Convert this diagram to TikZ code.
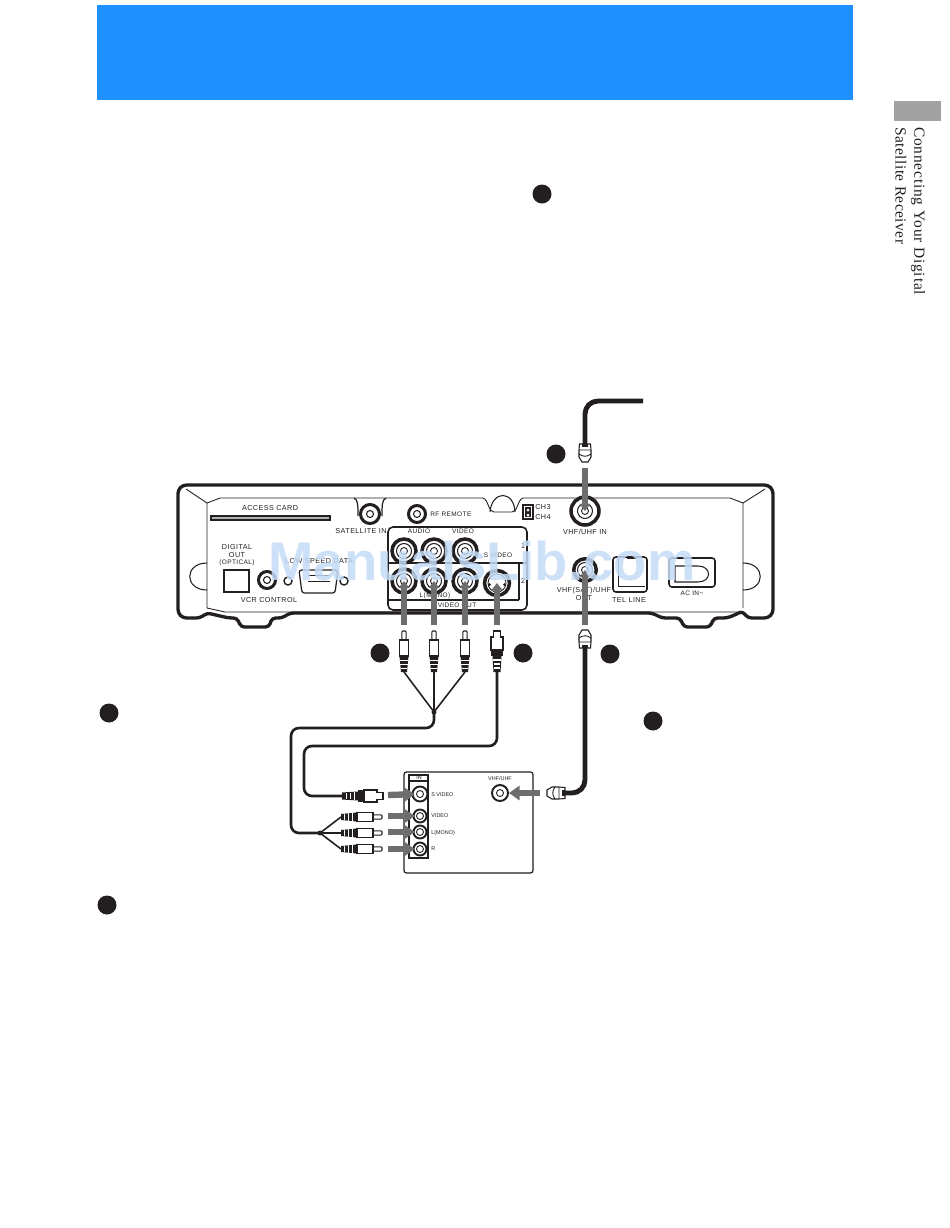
\documentclass[tikz,border=0pt]{standalone}
\usepackage{fontspec}
\setmainfont{Liberation Serif}
\setsansfont{Liberation Sans}
\newfontfamily\tabfonta[LetterSpace=5]{Liberation Serif}
\newfontfamily\tabfontb[LetterSpace=3]{Liberation Serif}
\newfontfamily\lblfont[LetterSpace=6]{Liberation Sans}
\usetikzlibrary{arrows.meta}
\definecolor{banner}{HTML}{1E90FF}
\definecolor{tabgray}{HTML}{A2A2A2}
\definecolor{feedgray}{HTML}{6E6E6E}
\definecolor{markcol}{HTML}{C4DBF6}
\definecolor{ink}{HTML}{231F20}
\tikzset{
  lbl/.style={font=\lblfont\fontsize{4.1}{5}\selectfont,inner sep=0pt,text=ink},
  lbls/.style={font=\lblfont\fontsize{3.7}{4}\selectfont,inner sep=0pt,text=ink},
  mini/.style={font=\sffamily\fontsize{3.1}{4}\selectfont,inner sep=0pt,text=ink},
  numdot/.style={circle,fill=ink,minimum size=3.8mm,inner sep=0pt},
  jack/.style={circle,draw=ink,line width=2pt,fill=white,minimum size=4.8mm,inner sep=0pt,
    path picture={\draw[ink,line width=.6pt] (path picture bounding box.center) circle (1.5mm);
      \draw[ink,line width=.5pt] (path picture bounding box.center) circle (.7mm);}},
  smalljack/.style={circle,draw=ink,line width=1.7pt,fill=white,minimum size=3.4mm,inner sep=0pt,
    path picture={\draw[ink,line width=.6pt] (path picture bounding box.center) circle (.7mm);}},
  svjack/.style={circle,draw=ink,line width=2pt,fill=white,minimum size=5mm,inner sep=0pt,
    path picture={\draw[ink,line width=.5pt] (path picture bounding box.center) circle (1.8mm);
      \fill[ink] ([shift={(-1.5mm,-.3mm)}]path picture bounding box.center) circle (.3mm)
        ([shift={(1.5mm,-.3mm)}]path picture bounding box.center) circle (.3mm)
        ([shift={(-.5mm,-1.9mm)}]path picture bounding box.center) rectangle ++(1mm,.9mm);}},
  vcrjack/.style={circle,draw=ink,line width=1.1pt,fill=white,minimum size=2.6mm,inner sep=0pt,
    path picture={\draw[ink,line width=.5pt] (path picture bounding box.center) circle (.7mm);}},
  feed/.style={feedgray,line width=2.9pt,-{Triangle[length=4pt,width=6pt]}},
  vcrfeed/.style={feedgray,line width=3.6pt,shorten >=3pt,-{Triangle[length=6pt,width=8pt]}},
  cable/.style={ink,line width=2.8pt,rounded corners=2.6mm},
  thincable/.style={ink,line width=1.5pt,rounded corners=1.6mm},
  tail/.style={ink,line width=.9pt},
  rca/.pic={
    \draw[ink,line width=.6pt,fill=white,rounded corners=.2mm] (-2.2,0) -- (2.2,0) -- (2.2,9) -- (-2.2,9) -- cycle;
    \draw[ink,line width=.6pt,fill=white] (-4.6,9) rectangle (4.6,25);
    \fill[ink] (-4.5,25) -- (4.5,25) -- (3,41) -- (-3,41) -- cycle;
    \foreach \r/\w in {29/4,33/3.6,37/3.2}
      \fill[white] (-\w,\r) rectangle (\w,\r+1.3);
    \coordinate (-end) at (0,41);
  },
  splug/.pic={
    \draw[ink,line width=.6pt,fill=white] (-3.5,0) -- (3.5,0) -- (3.5,6) -- (6,6) -- (6,19) -- (-6,19) -- (-6,6) -- (-3.5,6) -- cycle;
    \fill[ink] (-6,19) rectangle (6,25);
    \fill[ink] (-4.5,25) -- (4.5,25) -- (3.5,41) -- (-3.5,41) -- cycle;
    \foreach \r/\w in {28/3.8,32/3.4,36/3}
      \fill[white] (-\w,\r) rectangle (\w,\r+1.5);
    \coordinate (-end) at (0,41);
  },
  fplug/.pic={
    \draw[ink,line width=.6pt,fill=white] (-5.5,0) -- (5.5,0) -- (6,6) -- (6,13) -- (3,18) -- (-3,18) -- (-6,13) -- (-6,6) -- cycle;
    \draw[ink,line width=.5pt] (-6,6) -- (6,6) (-6,10) .. controls (-2,13) and (2,13) .. (6,10);
    \fill[ink] (-3,0) rectangle (3,3);
  }
}
\begin{document}
\begin{tikzpicture}[x=.2mm,y=-.2mm]
  \useasboundingbox (0,0) rectangle (950,1228);
  \fill[white] (0,0) rectangle (950,1228);
  \fill[banner] (97,5) rectangle (853,100);
  \fill[tabgray] (894,101) rectangle (941,121);
  \node[rotate=-90,anchor=west,inner sep=0pt,font=\tabfonta\fontsize{8.8}{10}\selectfont,text=ink] (tabtop) at (918,127) {Connecting Your Digital};
  \node[rotate=-90,anchor=west,inner sep=0pt,font=\tabfontb\fontsize{8.8}{10}\selectfont,text=ink] (tabbot) at (901,127) {Satellite Receiver};
  % numbered dots
  \foreach \x/\y/\n in {542/194/a,556/454/b,380/653/c,523/653/d,610/654/e,109/713/f,653/721/g,107/905/h}
    \node[numdot] (dot\n) at (\x,\y) {};
  % receiver body
  \draw[ink,line width=1.9pt,line join=round,rounded corners=.7mm,fill=white] (178,490) -- (183,485) -- (768,485) -- (773,490) -- (773,613) -- (768,618) -- (748,618) -- (742,611) -- (737,614) -- (727,618) -- (714,618) -- (710,627) -- (684,627) -- (680,618) -- (662,618) -- (652,613) -- (290,613) -- (282,618) -- (272,618) -- (269,627) -- (241,627) -- (237,618) -- (229,618) -- (207,613) -- (200,618) -- (183,618) -- (178,613) -- cycle;
  \draw[ink,line width=.5pt] (186,489) -- (207,503) -- (207,608) -- (225,612) -- (737,612) (743,608) -- (743,503) -- (765,489);
  \draw[ink,line width=.5pt] (207,503) -- (220,498) -- (483,498) .. controls (489,500) and (488,512) .. (494,512) -- (512,512) .. controls (518,512) and (517,500) .. (523,498) -- (730,498) -- (743,503);
  \draw[ink,line width=.6pt] (490,512) .. controls (492,490) and (514,490) .. (515,512);
  \draw[ink,line width=.6pt] (207,563) .. controls (184,563) and (184,590) .. (207,590);
  \draw[ink,line width=.6pt] (743,563) .. controls (766,563) and (766,590) .. (743,590);
  % access card and top row
  \draw[ink,line width=.7pt,fill=gray!60] (211,516) rectangle (330,520);
  \node[lbl] (cardlbl) at (270,508) {ACCESS CARD};
  \draw[ink,line width=.7pt] (354,498) .. controls (358,500) and (358,505) .. (358,516) (386,498) .. controls (382,500) and (382,505) .. (382,516);
  \node[smalljack,minimum size=3.8mm] (satin) at (370,514) {};
  \node[lbl] (satlbl) at (361,531) {SATELLITE IN};
  \node[smalljack] (rfrem) at (417,514) {};
  \node[lbls,anchor=west] (rflbl) at (430,514) {RF REMOTE};
  \draw[ink,line width=.8pt,fill=white] (523,505) rectangle (533,519);
  \fill[ink] (525,507) rectangle (531,517);
  \fill[white] (528,510) circle (1.5) (528,515) circle (1.5);
  \node[lbl,anchor=west] (ch3) at (535,507) {CH3};
  \node[lbl,anchor=west] (ch4) at (535,517) {CH4};
  \node[jack,minimum size=5.6mm] (vhfin) at (585,511) {};
  \node[lbl] (vhfinlbl) at (585,532) {VHF/UHF IN};
  % left panel
  \node[lbl] (dig1) at (237,547) {DIGITAL};
  \node[lbl] (dig2) at (237,555) {OUT};
  \node[lbls] (dig3) at (237,563) {(OPTICAL)};
  \draw[ink,line width=1.3pt,fill=white] (224,570) rectangle (249,592);
  \node[smalljack] (vcrctl) at (267,580) {};
  \node[lbl] (vcrlbl) at (269,600) {VCR CONTROL};
  \node[lbl] (datalbl) at (319,561) {LOW SPEED DATA};
  \draw[ink,line width=.7pt,rounded corners=.5mm] (299,570) -- (338,570) -- (335,593) -- (302,593) -- cycle;
  \draw[ink,line width=.5pt] (308,575) -- (330,575) (308,581) -- (330,581);
  \draw[ink,line width=.8pt] (288,581) circle (4) (344,581) circle (4);
  % video out panel
  \draw[ink,line width=.9pt,rounded corners=1mm] (388,527) rectangle (527,610);
  \draw[ink,line width=.6pt] (388,600) -- (519,600) (519,563) -- (519,600) (388,563) -- (527,563);
  \foreach \x/\n in {404/l,434/m,465/r} {
    \node[jack] (up\n) at (\x,551) {};
    \node[jack] (low\n) at (\x,581) {};
  }
  \node[svjack] (svid) at (497,583) {};
  \node[lbls,fill=white] (audlbl) at (419,531) {AUDIO};
  \node[lbls,fill=white] (vidlbl) at (463,531) {VIDEO};
  \node[lbls] (svlbl) at (498,555) {S VIDEO};
  \node[lbls] (monolbl) at (435,596) {L(MONO)};
  \node[lbls] (outlbl) at (457,605) {VIDEO OUT};
  \node[lbl] (one) at (523,546) {1};
  \node[lbl] (two) at (523,581) {2};
  % right panel
  \node[jack,minimum size=4.5mm] (vhfout) at (585,570) {};
  \node[lbl] (vhfoutlbl) at (584,591) {VHF(SAT)/UHF};
  \node[lbl] (vhfoutlbb) at (584,598) {OUT};
  \draw[ink,line width=.9pt,rounded corners=.6mm] (613,557) rectangle (647,592);
  \draw[ink,line width=1.3pt] (627,558) -- (637,558);
  \draw[ink,line width=.5pt] (618,558) -- (618,586) -- (645,586);
  \node[lbl] (tellbl) at (629,600) {TEL LINE};
  \draw[ink,line width=.9pt,rounded corners=.6mm] (669,558) rectangle (715,587);
  \draw[ink,line width=.6pt] (675,566) -- (698,566) .. controls (712,566) and (712,582) .. (698,582) -- (675,582) -- cycle;
  \node[lbls] (aclbl) at (692,593) {AC IN\textasciitilde};
  % plugs under the receiver
  \foreach \x/\n in {404/l,434/m,465/r}
    \pic (pl\n) at (\x,631) {rca};
  \pic (plsv) at (497,631) {splug};
  \pic[rotate=180] at (585,648) {fplug};
  \pic at (585,444) {fplug};
  \coordinate (antend) at (643,401);
  \coordinate (antplug) at (585,444);
  \coordinate (topfeed) at (585,468);
  \coordinate (outplug) at (585,647);
  \foreach \x/\n in {404/l,434/m,465/r}
    \coordinate (fd\n) at (\x,625);
  \coordinate (fdsv) at (497,625);
  \coordinate (fdout) at (585,625);
  \draw[cable] (antplug) -- (585,401) -- (antend);
  \draw[feed] (topfeed) -- (vhfin.center);
  \foreach \n in {l,m,r}
    \draw[feed] (fd\n) -- (low\n.center);
  \draw[feed] (fdsv) -- (svid.center);
  \draw[feed] (fdout) -- (vhfout.center);
  % vcr box
  \draw[ink,line width=.7pt,rounded corners=.5mm] (404,772) rectangle (533,873);
  \draw[ink,line width=.7pt] (409,775) rectangle (428,858) (409,781) -- (428,781);
  \node[mini] (inlbl) at (419,778) {IN};
  \node[vcrjack,minimum size=3mm] (vsv) at (420,794) {};
  \foreach \y/\n in {816/v,832/m,849/r}
    \node[vcrjack] (vc\n) at (420,\y) {};
  \node[mini,anchor=west] (vsvlbl) at (431,795) {S VIDEO};
  \node[mini,anchor=west] (vvlbl) at (431,816) {VIDEO};
  \node[mini,anchor=west] (vmlbl) at (431,833) {L(MONO)};
  \node[mini,anchor=west] (vrlbl) at (431,849) {R};
  \node[mini] (vuhflbl) at (500,779) {VHF/UHF};
  \node[vcrjack,minimum size=3.2mm] (vuhf) at (500,793) {};
  % plugs at the vcr
  \pic[rotate=-90] (hsv) at (383,796) {splug};
  \foreach \y/\n in {817/v,833/m,849/r}
    \pic[rotate=-90] (h\n) at (382,\y) {rca};
  \pic[rotate=-90] at (565,793) {fplug};
  \coordinate (fdvs) at (388,795);
  \coordinate (fdvv) at (388,816);
  \coordinate (fdvm) at (388,832);
  \coordinate (fdvr) at (388,849);
  \coordinate (fduhf) at (540,793);
  \draw[vcrfeed] (fdvs) -- (vsv.center);
  \draw[vcrfeed] (fdvv) -- (vcv.center);
  \draw[vcrfeed] (fdvm) -- (vcm.center);
  \draw[vcrfeed] (fdvr) -- (vcr.center);
  \draw[vcrfeed,shorten >=0pt] (fduhf) -- (vuhf.east);
  % wires
  \coordinate (forktop) at (434,712);
  \coordinate (forkbot) at (320,833);
  \coordinate (fplugvcr) at (565,793);
  \fill[ink] (forktop) circle (2.5) (forkbot) circle (2.5);
  \foreach \n in {l,m,r}
    \draw[tail] (pl\n-end) -- (forktop);
  \foreach \n in {v,m,r}
    \draw[tail] (h\n-end) -- (forkbot);
  \draw[thincable] (forktop) -- (434,728) -- (291,728) -- (291,833) -- (forkbot);
  \draw[thincable] (plsv-end) -- (497,746) -- (304,746) -- (304,796) -- (hsv-end);
  \draw[cable] (outplug) -- (585,793) -- (fplugvcr);
  % watermark
  \node[text=markcol,text opacity=.85,inner sep=0pt,font=\sffamily\bfseries\fontsize{31}{36}\selectfont] (wmark) at (482,561) {ManualsLib.com};
\end{tikzpicture}
\end{document}
